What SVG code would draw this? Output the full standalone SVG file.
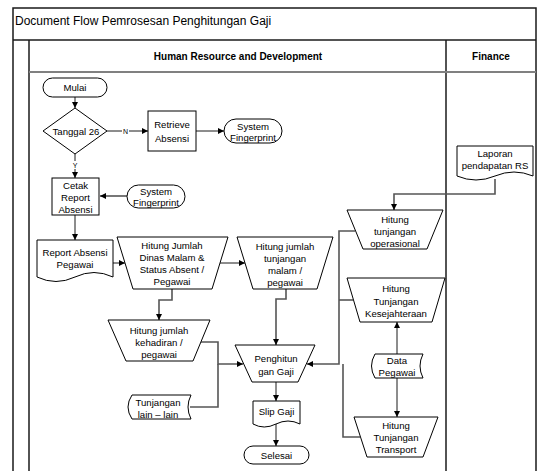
<svg xmlns="http://www.w3.org/2000/svg" width="537" height="471" viewBox="0 0 537 471">
<style>
text{font-family:"Liberation Sans",Arial,sans-serif;font-size:9.6px;fill:#000;text-anchor:middle;dominant-baseline:central}
.title{font-size:12px;text-anchor:start}
.hdr{font-weight:bold;font-size:10px}
.lbl{font-size:7px}
.shape{fill:#fff;stroke:#000;stroke-width:1}
.frame{fill:none;stroke:#1a1a1a;stroke-width:1.5}
.c{fill:none;stroke:#1a1a1a;stroke-width:1}
.g{fill:none;stroke:#555;stroke-width:1.6}
</style>
<defs>
<marker id="ah" viewBox="0 0 8 8" refX="8" refY="4" markerWidth="6" markerHeight="6" markerUnits="userSpaceOnUse" orient="auto">
<path d="M0,0 L8,4 L0,8 Z" fill="#000"/>
</marker>
</defs>
<rect width="537" height="471" fill="#fff"/>
<g id="pool">
<path class="frame" d="M13,471 V8 H536 V471"/>
<line class="frame" x1="13" y1="40" x2="536" y2="40"/>
<line class="frame" x1="29" y1="40" x2="29" y2="471"/>
<line class="frame" x1="446" y1="40" x2="446" y2="471"/>
<line x1="29" y1="72" x2="536" y2="72" stroke="#808080" stroke-width="2"/>
<text class="title" x="15" y="21">Document Flow Pemrosesan Penghitungan Gaji</text>
<text class="hdr" x="238" y="56">Human Resource and Development</text>
<text class="hdr" x="491" y="56">Finance</text>
</g>
<g id="connectors">
<line class="c" x1="75" y1="97" x2="75" y2="108" marker-end="url(#ah)"/>
<line class="c" x1="107" y1="131" x2="148" y2="131" marker-end="url(#ah)"/>
<rect x="122" y="127" width="7" height="8" fill="#fff"/>
<text class="lbl" x="125.5" y="131">N</text>
<line class="c" x1="196" y1="131" x2="224" y2="131" marker-end="url(#ah)"/>
<line class="c" x1="75" y1="154" x2="75" y2="178" marker-end="url(#ah)"/>
<rect x="71" y="161" width="8" height="8" fill="#fff"/>
<text class="lbl" x="75" y="165">Y</text>
<line class="g" x1="127" y1="196" x2="100" y2="196" marker-end="url(#ah)"/>
<line class="c" x1="75" y1="215" x2="75" y2="240" marker-end="url(#ah)"/>
<line class="c" x1="113" y1="263" x2="125" y2="263" marker-end="url(#ah)"/>
<line class="c" x1="220" y1="263" x2="245" y2="263" marker-end="url(#ah)"/>
<path class="g" d="M172,289 V300 H159 V320" marker-end="url(#ah)"/>
<path class="g" d="M286,289 V299 H276 V345" marker-end="url(#ah)"/>
<path class="g" d="M201,342 H218 V364 H243" marker-end="url(#ah)"/>
<path class="g" d="M190,407 H218 V364"/>
<line class="c" x1="276" y1="382" x2="276" y2="401" marker-end="url(#ah)"/>
<line class="c" x1="276" y1="424" x2="276" y2="446" marker-end="url(#ah)"/>
<path class="g" d="M495,179 V194 H394 V210" marker-end="url(#ah)"/>
<path class="g" d="M355,231 H339 V364 H307" marker-end="url(#ah)"/>
<path class="g" d="M353,300 H339"/>
<path class="g" d="M360,437 H343 V364"/>
<line class="c" x1="397" y1="354" x2="397" y2="322" marker-end="url(#ah)"/>
<line class="c" x1="397" y1="378" x2="397" y2="417" marker-end="url(#ah)"/>
</g>
<g id="mulai">
<rect class="shape" x="43" y="78" width="64" height="19" rx="9.5"/>
<text x="75" y="87.5">Mulai</text>
</g>
<g id="tanggal26">
<polygon class="shape" points="75,108 107,131 75,154 43,131"/>
<text x="76" y="131">Tanggal 26</text>
</g>
<g id="retrieve">
<rect class="shape" x="148" y="111" width="48" height="40"/>
<text x="172" y="124">Retrieve</text>
<text x="172" y="138">Absensi</text>
</g>
<g id="fingerprint1">
<rect class="shape" x="224" y="119" width="58" height="24" rx="12"/>
<text x="253" y="126">System</text>
<text x="253" y="137">Fingerprint</text>
</g>
<g id="cetak">
<rect class="shape" x="52" y="178" width="47" height="37"/>
<text x="75.5" y="185">Cetak</text>
<text x="75.5" y="197">Report</text>
<text x="75.5" y="209">Absensi</text>
</g>
<g id="fingerprint2">
<rect class="shape" x="127" y="185" width="58" height="23" rx="11.5"/>
<text x="156" y="191">System</text>
<text x="156" y="202">Fingerprint</text>
</g>
<g id="reportAbsensi">
<path class="shape" d="M37,240 H113 V277 Q94,268 75,277 T37,277 Z"/>
<text x="75" y="252">Report Absensi</text>
<text x="75" y="264">Pegawai</text>
</g>
<g id="dinasMalam">
<polygon class="shape" points="117,237 228,237 212,289 133,289"/>
<text x="172" y="245">Hitung Jumlah</text>
<text x="172" y="257">Dinas Malam &amp;</text>
<text x="172" y="269">Status Absent /</text>
<text x="172" y="281">Pegawai</text>
</g>
<g id="tunjanganMalam">
<polygon class="shape" points="237,237 333,237 317,289 253,289"/>
<text x="285" y="246">Hitung jumlah</text>
<text x="285" y="258">tunjangan</text>
<text x="285" y="270">malam /</text>
<text x="285" y="282">pegawai</text>
</g>
<g id="kehadiran">
<polygon class="shape" points="108,320 210,320 193,361 126,361"/>
<text x="159" y="330">Hitung jumlah</text>
<text x="159" y="342">kehadiran /</text>
<text x="159" y="354">pegawai</text>
</g>
<g id="tunjanganLain">
<path class="shape" d="M132,395 H191 Q185,407 191,419 H132 Q124,407 132,395 Z"/>
<text x="158" y="402">Tunjangan</text>
<text x="158" y="414">lain – lain</text>
</g>
<g id="penghitungan">
<polygon class="shape" points="235,345 315,345 298,382 252,382"/>
<text x="276" y="358">Penghitun</text>
<text x="276" y="371">gan Gaji</text>
</g>
<g id="slipGaji">
<path class="shape" d="M253,401 H300 V424 Q288,418 276,424 T253,424 Z"/>
<text x="276.5" y="411">Slip Gaji</text>
</g>
<g id="selesai">
<rect class="shape" x="244" y="446" width="65" height="18" rx="9"/>
<text x="276.5" y="455">Selesai</text>
</g>
<g id="laporan">
<path class="shape" d="M457,146 H533 V176 Q514,168 495,176 T457,176 Z"/>
<text x="495" y="153">Laporan</text>
<text x="495" y="165">pendapatan RS</text>
</g>
<g id="operasional">
<polygon class="shape" points="347,210 443,210 427,249 363,249"/>
<text x="395" y="219">Hitung</text>
<text x="395" y="231">tunjangan</text>
<text x="395" y="243">operasional</text>
</g>
<g id="kesejahteraan">
<polygon class="shape" points="347,278 445,278 432,322 360,322"/>
<text x="396" y="288">Hitung</text>
<text x="396" y="301">Tunjangan</text>
<text x="396" y="313">Kesejahteraan</text>
</g>
<g id="dataPegawai">
<path class="shape" d="M375,354 H423 Q417,366 423,378 H375 Q368,366 375,354 Z"/>
<text x="397" y="360">Data</text>
<text x="397" y="372">Pegawai</text>
</g>
<g id="transport">
<polygon class="shape" points="354,417 438,417 423,457 367,457"/>
<text x="396" y="425">Hitung</text>
<text x="396" y="437">Tunjangan</text>
<text x="396" y="449">Transport</text>
</g>
</svg>
